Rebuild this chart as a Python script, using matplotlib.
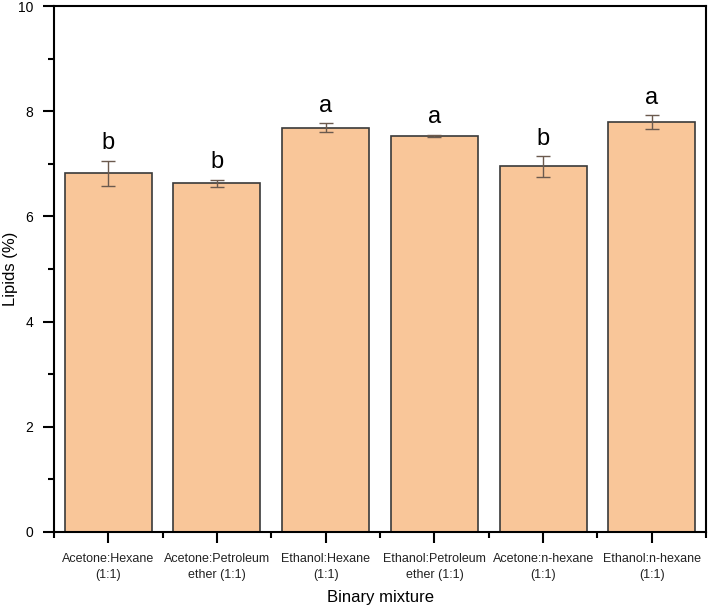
import matplotlib
matplotlib.use("Agg")
from matplotlib import pyplot as plt
from matplotlib.ticker import MultipleLocator, FixedLocator
import numpy as np

plt.rcParams['font.family'] = ['Liberation Sans', 'DejaVu Sans']

categorias = ["Acetone:Hexane\n(1:1)", "Acetone:Petroleum\nether (1:1)", "Ethanol:Hexane\n(1:1)",
              "Ethanol:Petroleum\nether (1:1)", "Acetone:n-hexane\n(1:1)", "Ethanol:n-hexane\n(1:1)"]
lipidos = [6.82, 6.63, 7.69, 7.53, 6.95, 7.80]
errores = [0.24, 0.07, 0.08, 0.02, 0.20, 0.13]
letras = ["b", "b", "a", "a", "b", "a"]

fig = plt.figure(figsize=(7.09, 6.10), dpi=100)
ax = fig.add_axes([0.076, 0.128, 0.92, 0.862])

x = np.arange(len(categorias))
ax.bar(x, lipidos, width=0.8, color="#F9C699", edgecolor="#3a3a3a", linewidth=1.2, zorder=2)
ax.errorbar(x, lipidos, yerr=errores, fmt="none", ecolor="#6b5a4e", elinewidth=1.0,
            capsize=5, capthick=1.0, zorder=3)

for xi, v, e, l in zip(x, lipidos, errores, letras):
    ax.text(xi, v + max(e, 0.03) + 0.12, l, ha="center", va="bottom", fontsize=17)

ax.set_xlim(-0.5, 5.5)
ax.set_ylim(0, 10)
ax.set_xticks(x)
ax.set_xticklabels(categorias, fontsize=9, color="#222222", linespacing=1.45)
ax.xaxis.set_minor_locator(FixedLocator(np.arange(-0.5, 6, 1.0)))
ax.yaxis.set_major_locator(MultipleLocator(2))
ax.yaxis.set_minor_locator(MultipleLocator(1))
ax.tick_params(axis="y", labelsize=10, pad=7)
ax.tick_params(axis="x", pad=7)
ax.tick_params(which="major", direction="out", length=8, width=1.5)
ax.tick_params(which="minor", direction="out", length=4, width=1.5)
for s in ax.spines.values():
    s.set_linewidth(1.5)

ax.set_xlabel("Binary mixture", fontsize=12, va="center")
ax.xaxis.set_label_coords(0.5, -0.125)
ax.set_ylabel("Lipids (%)", fontsize=12, va="center")
ax.yaxis.set_label_coords(-0.066, 0.5)

plt.savefig("out.png", dpi=100)
